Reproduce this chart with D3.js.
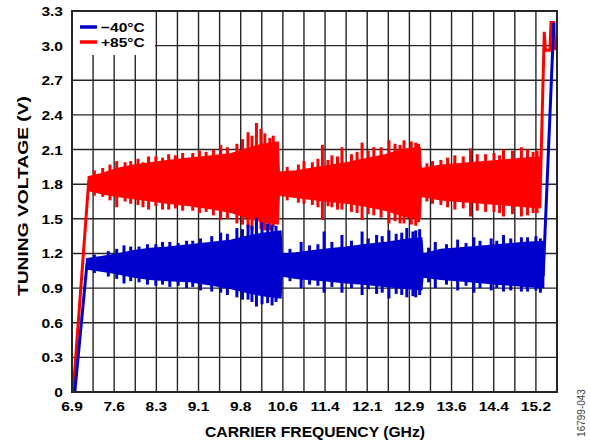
<!DOCTYPE html>
<html>
<head>
<meta charset="utf-8">
<script src="https://cdn.jsdelivr.net/npm/d3@7"></script>
<style>
  body { margin: 0; background: #fff; }
  text { font-family: "Liberation Sans", Arial, sans-serif; }
</style>
</head>
<body>
<div id="chart"></div>
<script>
"use strict";
//Tuning voltage vs carrier frequency, two temperatures

//Axis labels
var xTickLabels = ["6.9", "7.6", "8.3", "9.1", "9.8", "10.6", "11.4", "12.1", "12.9", "13.6", "14.4", "15.2"];
var yTickLabels = ["0", "0.3", "0.6", "0.9", "1.2", "1.5", "1.8", "2.1", "2.4", "2.7", "3.0", "3.3"];
var seriesNames = ["\u221240\u00B0C", "+85\u00B0C"];

//-40C : ramp in, core band envelope, spikes [GHz, low V, high V], ramp out
var coldRampIn  = [[6.95, 0], [7.17, 1.12]];
var coldCoreF   = [7.17, 7.45, 7.7, 8.0, 8.3, 8.6, 9.0, 9.4, 9.75, 10.0, 10.3, 10.63, 10.65, 10.9, 11.4, 11.8, 12.1, 12.5, 12.9, 13.15, 13.17, 13.5, 14.0, 14.5, 15.0, 15.33];
var coldCoreHi  = [1.15, 1.17, 1.19, 1.22, 1.24, 1.25, 1.27, 1.29, 1.31, 1.34, 1.37, 1.39, 1.19, 1.20, 1.23, 1.25, 1.27, 1.29, 1.32, 1.33, 1.19, 1.23, 1.25, 1.27, 1.29, 1.30];
var coldCoreLo  = [1.07, 1.05, 1.03, 1.00, 0.98, 0.97, 0.96, 0.93, 0.90, 0.87, 0.84, 0.82, 1.01, 0.99, 0.97, 0.95, 0.94, 0.92, 0.90, 0.89, 1.00, 0.98, 0.96, 0.94, 0.92, 0.91];
var coldSpikes  = [
    [7.3, 1.03, 1.19], [7.55, 1.00, 1.22], [7.7, 0.98, 1.24], [7.83, 0.94, 1.27], [7.95, 0.96, 1.26],
    [8.1, 0.95, 1.26], [8.25, 0.93, 1.28], [8.4, 0.92, 1.28], [8.52, 0.93, 1.30], [8.65, 0.91, 1.30],
    [8.8, 0.92, 1.29], [8.95, 0.90, 1.31], [9.06, 0.91, 1.31], [9.2, 0.88, 1.33], [9.4, 0.87, 1.35],
    [9.56, 0.86, 1.38], [9.68, 0.84, 1.37], [9.85, 0.82, 1.42], [9.95, 0.80, 1.41], [10.05, 0.80, 1.45],
    [10.12, 0.78, 1.44], [10.2, 0.74, 1.51], [10.3, 0.76, 1.47], [10.4, 0.77, 1.46], [10.48, 0.75, 1.45],
    [10.55, 0.78, 1.44], [10.8, 0.96, 1.24], [11.0, 0.90, 1.30], [11.15, 0.93, 1.27], [11.3, 0.92, 1.28],
    [11.41, 0.86, 1.39], [11.55, 0.91, 1.30], [11.73, 0.86, 1.36], [11.9, 0.90, 1.31], [12.09, 0.84, 1.39],
    [12.2, 0.89, 1.33], [12.35, 0.85, 1.36], [12.45, 0.86, 1.35], [12.57, 0.81, 1.40], [12.7, 0.85, 1.37],
    [12.8, 0.84, 1.38], [12.89, 0.82, 1.42], [13.0, 0.83, 1.39], [13.05, 0.82, 1.40], [13.12, 0.84, 1.41],
    [13.28, 0.95, 1.25], [13.4, 0.90, 1.30], [13.6, 0.93, 1.28], [13.8, 0.88, 1.32], [13.95, 0.92, 1.29],
    [14.09, 0.86, 1.34], [14.2, 0.90, 1.31], [14.4, 0.88, 1.33], [14.5, 0.90, 1.31], [14.62, 0.87, 1.36],
    [14.75, 0.88, 1.33], [14.94, 0.87, 1.34], [15.05, 0.87, 1.34], [15.2, 0.88, 1.35], [15.28, 0.86, 1.33]
];
var coldRampOut = [[15.33, 1.0], [15.52, 3.2]];

//+85C
var hotRampIn  = [[6.92, 0], [7.20, 1.83]];
var hotCoreF   = [7.20, 7.45, 7.7, 8.0, 8.3, 8.6, 9.0, 9.4, 9.75, 10.0, 10.3, 10.58, 10.60, 10.9, 11.4, 11.8, 12.1, 12.5, 12.7, 12.9, 13.12, 13.14, 13.5, 14.0, 14.5, 15.0, 15.27];
var hotCoreHi  = [1.86, 1.89, 1.93, 1.96, 1.98, 2.00, 2.02, 2.04, 2.06, 2.10, 2.14, 2.16, 1.90, 1.91, 1.95, 1.98, 2.01, 2.05, 2.08, 2.10, 2.11, 1.93, 1.96, 1.98, 2.00, 2.02, 2.03];
var hotCoreLo  = [1.75, 1.72, 1.70, 1.68, 1.66, 1.64, 1.62, 1.59, 1.56, 1.52, 1.48, 1.46, 1.71, 1.69, 1.66, 1.64, 1.62, 1.58, 1.55, 1.52, 1.51, 1.70, 1.67, 1.65, 1.63, 1.61, 1.60];
var hotSpikes  = [
    [7.3, 1.70, 1.92], [7.45, 1.69, 1.94], [7.58, 1.66, 1.97], [7.7, 1.60, 2.00], [7.85, 1.65, 1.99],
    [7.95, 1.63, 2.00], [8.08, 1.62, 2.02], [8.17, 1.60, 1.99], [8.27, 1.58, 2.04], [8.4, 1.61, 2.04],
    [8.52, 1.58, 2.03], [8.63, 1.58, 2.06], [8.75, 1.59, 2.05], [8.88, 1.57, 2.07], [9.06, 1.57, 2.07],
    [9.18, 1.55, 2.09], [9.3, 1.56, 2.08], [9.43, 1.53, 2.10], [9.56, 1.49, 2.14], [9.68, 1.50, 2.12],
    [9.85, 1.46, 2.15], [9.95, 1.45, 2.19], [10.05, 1.42, 2.25], [10.12, 1.40, 2.22], [10.2, 1.38, 2.33],
    [10.28, 1.41, 2.28], [10.35, 1.40, 2.24], [10.44, 1.40, 2.20], [10.5, 1.43, 2.22], [10.75, 1.66, 1.95],
    [10.95, 1.64, 1.97], [11.05, 1.63, 2.00], [11.2, 1.62, 1.99], [11.3, 1.60, 2.02], [11.38, 1.49, 2.14],
    [11.48, 1.61, 2.01], [11.55, 1.60, 2.05], [11.65, 1.58, 2.04], [11.73, 1.58, 2.12], [11.9, 1.56, 2.06],
    [12.0, 1.55, 2.08], [12.09, 1.49, 2.16], [12.2, 1.54, 2.09], [12.3, 1.53, 2.12], [12.43, 1.51, 2.12],
    [12.57, 1.46, 2.18], [12.68, 1.48, 2.15], [12.77, 1.46, 2.14], [12.84, 1.46, 2.18], [12.97, 1.45, 2.17],
    [13.05, 1.44, 2.16], [13.1, 1.47, 2.15], [13.25, 1.65, 1.98], [13.35, 1.63, 2.00], [13.5, 1.62, 2.01],
    [13.62, 1.60, 2.03], [13.75, 1.58, 2.05], [13.9, 1.59, 2.04], [14.03, 1.52, 2.11], [14.15, 1.57, 2.06],
    [14.3, 1.56, 2.06], [14.45, 1.56, 2.07], [14.55, 1.55, 2.05], [14.62, 1.52, 2.10], [14.78, 1.54, 2.09],
    [14.94, 1.52, 2.12], [15.05, 1.53, 2.10], [15.15, 1.55, 2.08], [15.22, 1.55, 2.09]
];
var hotRampOut = [[15.27, 1.6], [15.35, 3.12], [15.37, 2.96], [15.45, 2.96], [15.47, 3.2], [15.52, 3.2], [15.54, 2.96]];

//Visualization parameters
var svgWidth = 590;
var svgHeight = 440;
var plot = {left: 72, right: 557, top: 11, bottom: 392};
var COLD = "#0000cc";
var HOT = "#ff0000";
var GRID = "#262626";
var WIDEN = 1.15; //reference type is wider than Liberation Sans

var xStep = (15.2 - 6.9) / 11;
var x = d3.scaleLinear().domain([6.9, 6.9 + 11.5 * xStep]).range([plot.left, plot.right]);
var y = d3.scaleLinear().domain([0, 3.3]).range([plot.bottom, plot.top]);

var svg = d3.select("#chart").append("svg")
    .attr("width", svgWidth)
    .attr("height", svgHeight);

//grid, vertical lines every half label step
var grid = svg.append("g");
d3.range(1, 23).forEach(function(i) {
    grid.append("line")
        .attr("x1", x(6.9 + i * xStep / 2)).attr("x2", x(6.9 + i * xStep / 2))
        .attr("y1", plot.top).attr("y2", plot.bottom)
        .attr("stroke", GRID).attr("stroke-width", 1.4);
});
d3.range(1, 11).forEach(function(i) {
    grid.append("line")
        .attr("x1", plot.left).attr("x2", plot.right)
        .attr("y1", y(i * 0.3)).attr("y2", y(i * 0.3))
        .attr("stroke", GRID).attr("stroke-width", 1.4);
});

var line = d3.line().x(function(d) { return x(d[0]); }).y(function(d) { return y(d[1]); });
var area = d3.area()
    .x(function(d) { return x(d.f); })
    .y0(function(d) { return y(d.lo); })
    .y1(function(d) { return y(d.hi); });

function drawSeries(color, rampIn, coreF, coreHi, coreLo, spikes, rampOut) {
    var g = svg.append("g");
    var core = coreF.map(function(f, i) { return {f: f, hi: coreHi[i], lo: coreLo[i]}; });
    g.append("path").datum(core).attr("d", area)
        .attr("fill", color).attr("stroke", color).attr("stroke-width", 2.4);
    g.selectAll("line.spike").data(spikes).join("line")
        .attr("class", "spike")
        .attr("x1", function(d) { return x(d[0]); }).attr("x2", function(d) { return x(d[0]); })
        .attr("y1", function(d) { return y(d[1]); }).attr("y2", function(d) { return y(d[2]); })
        .attr("stroke", color).attr("stroke-width", 3);
    [rampIn, rampOut].forEach(function(pts) {
        g.append("path").datum(pts).attr("d", line)
            .attr("fill", "none").attr("stroke", color).attr("stroke-width", 3);
    });
}

drawSeries(HOT, hotRampIn, hotCoreF, hotCoreHi, hotCoreLo, hotSpikes, hotRampOut);
drawSeries(COLD, coldRampIn, coldCoreF, coldCoreHi, coldCoreLo, coldSpikes, coldRampOut);

//frame
svg.append("rect")
    .attr("x", plot.left).attr("y", plot.top)
    .attr("width", plot.right - plot.left).attr("height", plot.bottom - plot.top)
    .attr("fill", "none").attr("stroke", GRID).attr("stroke-width", 2);

//text placed at (px, py), widened horizontally
function label(px, py, str, size, anchor) {
    return svg.append("text")
        .attr("transform", "translate(" + px + "," + py + ") scale(" + WIDEN + ",1)")
        .attr("text-anchor", anchor)
        .attr("font-size", size).attr("font-weight", "bold")
        .text(str);
}

//legend
svg.append("rect")
    .attr("x", plot.left + 1).attr("y", plot.top + 1)
    .attr("width", 82).attr("height", 43).attr("fill", "#fff");
[COLD, HOT].forEach(function(c, i) {
    svg.append("line")
        .attr("x1", 80).attr("x2", 97)
        .attr("y1", 27 + i * 15).attr("y2", 27 + i * 15)
        .attr("stroke", c).attr("stroke-width", 3.5);
    label(101, 31.5 + i * 15.5, seriesNames[i], 13.5, "start");
});

//tick labels
xTickLabels.forEach(function(d, i) {
    label(x(6.9 + i * xStep), 410.5, d, 13.5, "middle");
});
yTickLabels.forEach(function(d) {
    label(63, y(+d) + 5, d, 13.5, "end");
});

//axis titles
svg.append("text")
    .attr("x", 315).attr("y", 437)
    .attr("text-anchor", "middle")
    .attr("font-size", 14).attr("font-weight", "bold")
    .attr("textLength", 220).attr("lengthAdjust", "spacingAndGlyphs")
    .text("CARRIER FREQUENCY (GHz)");

svg.append("text")
    .attr("transform", "translate(28,196) rotate(-90)")
    .attr("text-anchor", "middle")
    .attr("font-size", 14).attr("font-weight", "bold")
    .attr("textLength", 200).attr("lengthAdjust", "spacingAndGlyphs")
    .text("TUNING  VOLTAGE (V)");

svg.append("text")
    .attr("transform", "translate(585,413) rotate(-90)")
    .attr("text-anchor", "middle")
    .attr("font-size", 10).attr("fill", "#444")
    .text("16799-043");
</script>
</body>
</html>
